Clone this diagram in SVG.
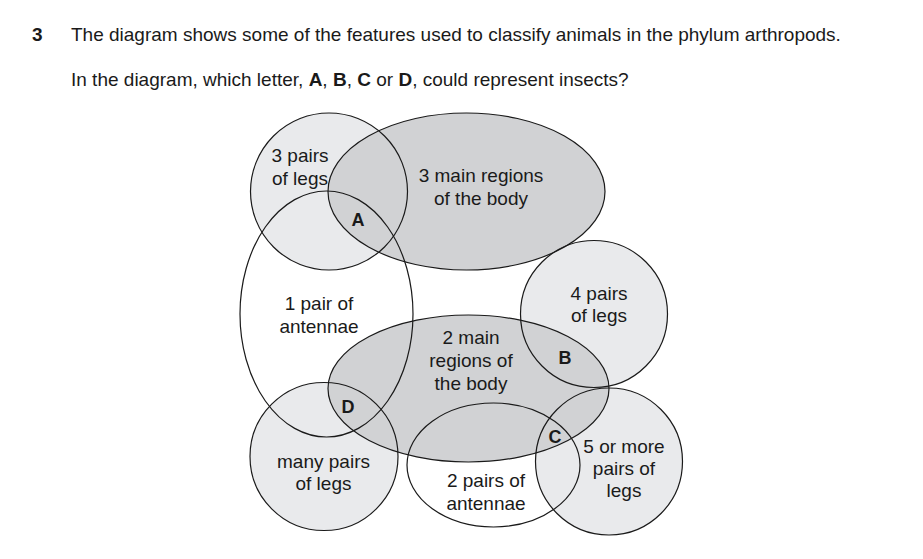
<svg xmlns="http://www.w3.org/2000/svg" xmlns:xlink="http://www.w3.org/1999/xlink" width="923" height="559" viewBox="0 0 923 559">
<style>
text{font-family:"Liberation Sans",Arial,sans-serif;font-size:19px;fill:#1a1a1a}
.lbl{text-anchor:middle}
.b{font-weight:bold}
.lt{font-size:18px}
.light{fill:#e9eaec;stroke:none}
.dark{fill:#d1d2d4;stroke:none}
.clear{fill:none;stroke:none}
.outline{fill:none;stroke:#1a1a1a;stroke-width:1.2}
</style>
<defs>
<circle id="s-3pairs" cx="329" cy="191.5" r="78.5"/>
<ellipse id="s-3main" cx="466.5" cy="191.5" rx="138.5" ry="78.5"/>
<ellipse id="s-1pair" cx="326.5" cy="314" rx="86.5" ry="123"/>
<circle id="s-4pairs" cx="594" cy="314" r="73.5"/>
<ellipse id="s-2main" cx="468.5" cy="388.5" rx="140.5" ry="73.5"/>
<circle id="s-many" cx="324" cy="456.5" r="74"/>
<ellipse id="s-2pairs" cx="493.5" cy="465" rx="86.5" ry="62"/>
<circle id="s-5more" cx="609" cy="461.5" r="73.5"/>
</defs>
<g id="question">
<text x="32" y="41" class="b">3</text>
<text x="71" y="41">The diagram shows some of the features used to classify animals in the phylum arthropods.</text>
<text x="71" y="86">In the diagram, which letter, <tspan class="b">A</tspan>, <tspan class="b">B</tspan>, <tspan class="b">C</tspan> or <tspan class="b">D</tspan>, could represent insects?</text>
</g>
<g id="node-3-pairs-of-legs">
<use xlink:href="#s-3pairs" href="#s-3pairs" class="light"/>
<text class="lbl" x="300" y="162">3 pairs</text>
<text class="lbl" x="300" y="185">of legs</text>
</g>
<g id="node-4-pairs-of-legs">
<use xlink:href="#s-4pairs" href="#s-4pairs" class="light"/>
<text class="lbl" x="599" y="300">4 pairs</text>
<text class="lbl" x="599" y="322">of legs</text>
</g>
<g id="node-many-pairs-of-legs">
<use xlink:href="#s-many" href="#s-many" class="light"/>
<text class="lbl" x="323.5" y="468">many pairs</text>
<text class="lbl" x="323.5" y="490">of legs</text>
</g>
<g id="node-5-or-more-pairs-of-legs">
<use xlink:href="#s-5more" href="#s-5more" class="light"/>
<text class="lbl" x="624" y="453">5 or more</text>
<text class="lbl" x="624" y="475">pairs of</text>
<text class="lbl" x="624" y="497">legs</text>
</g>
<g id="node-3-main-regions">
<use xlink:href="#s-3main" href="#s-3main" class="dark"/>
<text class="lbl" x="481" y="182">3 main regions</text>
<text class="lbl" x="481" y="205">of the body</text>
</g>
<g id="node-2-main-regions">
<use xlink:href="#s-2main" href="#s-2main" class="dark"/>
<text class="lbl" x="471" y="344">2 main</text>
<text class="lbl" x="471" y="367">regions of</text>
<text class="lbl" x="471" y="390">the body</text>
</g>
<g id="node-1-pair-of-antennae">
<use xlink:href="#s-1pair" href="#s-1pair" class="clear"/>
<text class="lbl" x="319" y="310">1 pair of</text>
<text class="lbl" x="319" y="333">antennae</text>
</g>
<g id="node-2-pairs-of-antennae">
<use xlink:href="#s-2pairs" href="#s-2pairs" class="clear"/>
<text class="lbl" x="486" y="487">2 pairs of</text>
<text class="lbl" x="486" y="510">antennae</text>
</g>
<g id="connectors">
<use xlink:href="#s-3pairs" href="#s-3pairs" class="outline"/>
<use xlink:href="#s-3main" href="#s-3main" class="outline"/>
<use xlink:href="#s-1pair" href="#s-1pair" class="outline"/>
<use xlink:href="#s-4pairs" href="#s-4pairs" class="outline"/>
<use xlink:href="#s-2main" href="#s-2main" class="outline"/>
<use xlink:href="#s-many" href="#s-many" class="outline"/>
<use xlink:href="#s-2pairs" href="#s-2pairs" class="outline"/>
<use xlink:href="#s-5more" href="#s-5more" class="outline"/>
</g>
<g id="letters">
<text class="lbl b lt" x="358" y="226">A</text>
<text class="lbl b lt" x="565" y="364">B</text>
<text class="lbl b lt" x="555" y="443">C</text>
<text class="lbl b lt" x="348" y="413">D</text>
</g>
</svg>
